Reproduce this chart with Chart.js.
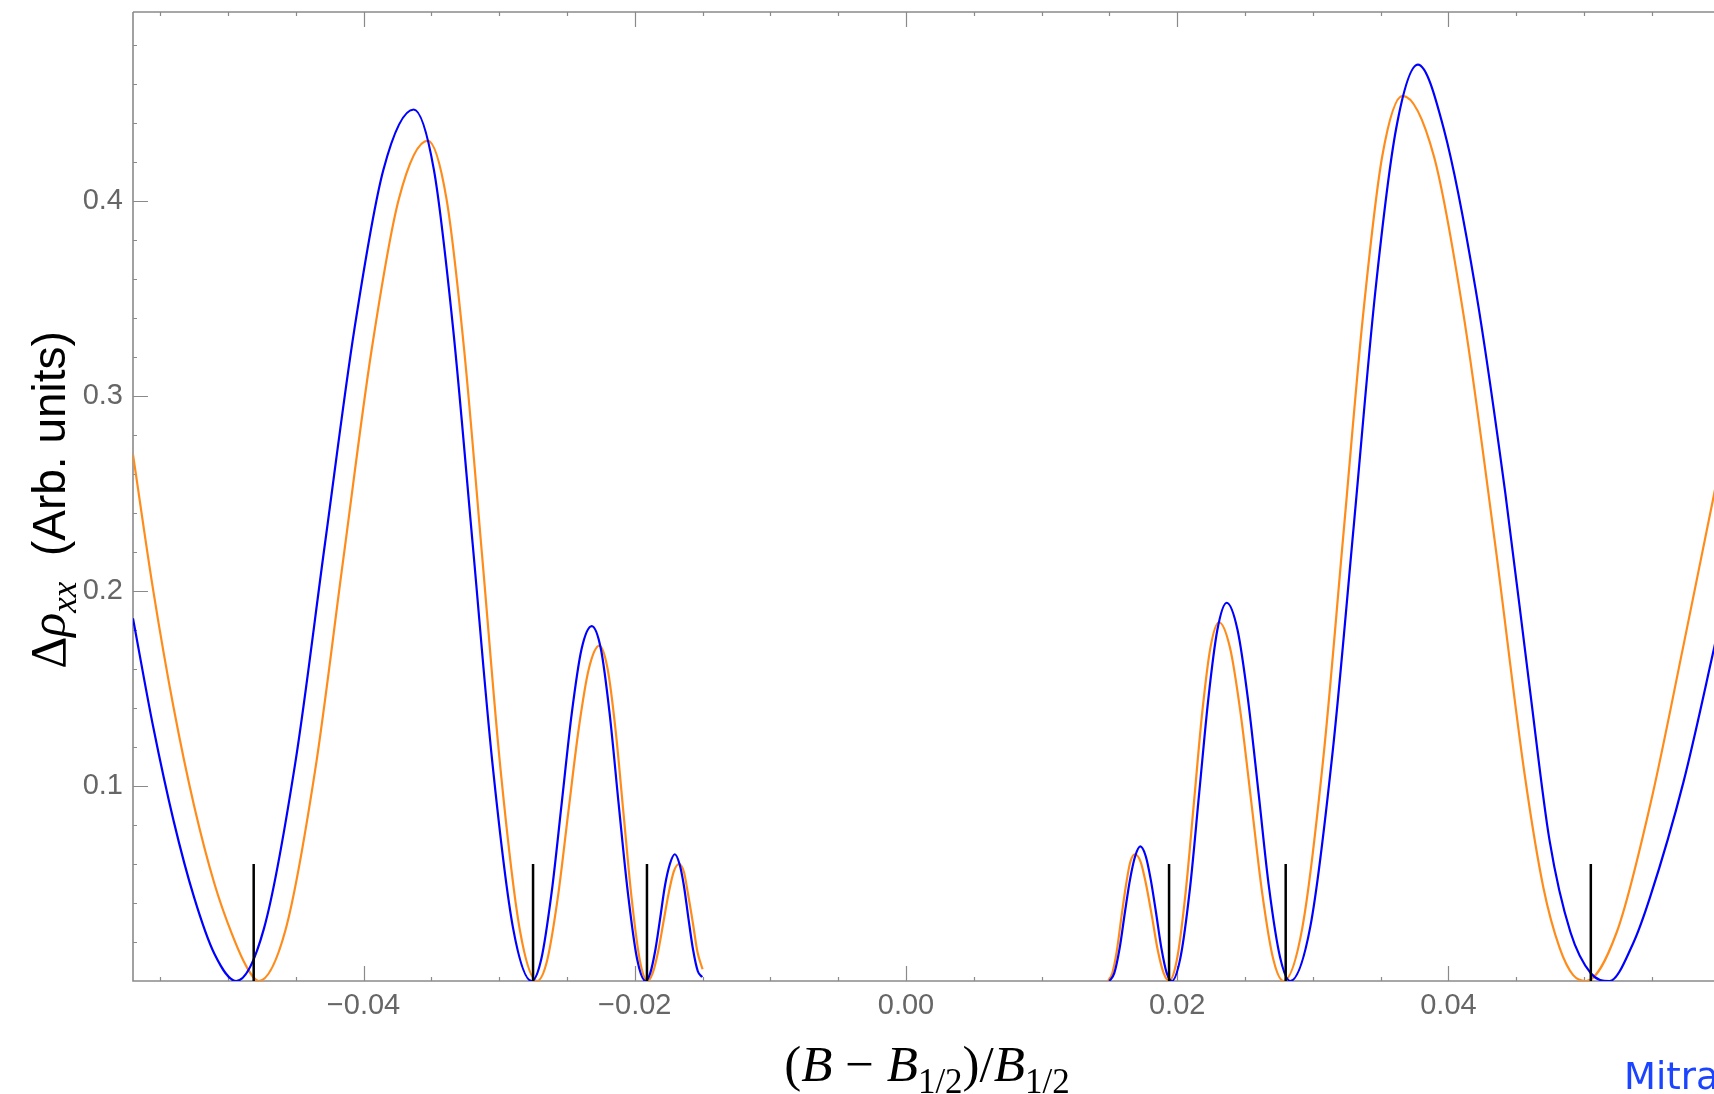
<!DOCTYPE html>
<html>
<head>
<meta charset="utf-8">
<script src="https://cdn.jsdelivr.net/npm/chart.js@4.4.1/dist/chart.umd.min.js"></script>
<style>
  html, body { margin: 0; padding: 0; background: #fff; overflow: hidden; }
  #wrap { width: 1722px; height: 1094px; }
</style>
</head>
<body>
<div id="wrap"><canvas id="rho" width="1722" height="1094"></canvas></div>
<script>
// axis ranges and ticks
const xMin = -0.0570
const xMax = 0.0601
const yMin = 0
const yMax = 0.497
const xTicks = [-0.04, -0.02, 0, 0.02, 0.04]
const yTicks = [0.1, 0.2, 0.3, 0.4]

// filling-factor markers
const markerX = [-0.0481, -0.0275, -0.0191, 0.0194, 0.0280, 0.0505]
const markerTop = 0.06

// [x, y] samples of the two curves, left and right of the gap
const blueLeft = [
  [-0.0570, 0.186], [-0.0555, 0.130], [-0.0540, 0.082], [-0.0525, 0.043], [-0.0510, 0.014], [-0.0494, 0],
  [-0.04734, 0.027], [-0.04503, 0.112], [-0.04285, 0.224], [-0.04066, 0.335], [-0.03854, 0.416], [-0.0363, 0.447],
  [-0.03481, 0.416], [-0.0334, 0.335], [-0.03195, 0.224], [-0.0305, 0.112], [-0.02897, 0.027], [-0.0276, 0],
  [-0.0269, 0.011], [-0.02612, 0.046], [-0.02539, 0.091], [-0.02465, 0.137], [-0.02393, 0.170], [-0.02317, 0.182],
  [-0.02249, 0.170], [-0.02185, 0.137], [-0.02119, 0.091], [-0.02052, 0.046], [-0.01982, 0.011], [-0.0192, 0],
  [-0.01886, 0.004], [-0.01848, 0.016], [-0.01813, 0.032], [-0.01777, 0.049], [-0.01741, 0.060], [-0.01705, 0.065],
  [-0.0167, 0.060], [-0.01638, 0.049], [-0.01604, 0.032], [-0.0157, 0.016], [-0.01535, 0.005], [-0.01503, 0.002]
]
const blueRight = [
  [0.0150, 0], [0.01536, 0.004], [0.01576, 0.017], [0.01614, 0.035], [0.01652, 0.052], [0.0169, 0.064], [0.01728, 0.069],
  [0.01768, 0.064], [0.01805, 0.052], [0.01844, 0.035], [0.01883, 0.017], [0.01923, 0.004], [0.0196, 0],
  [0.02024, 0.012], [0.02095, 0.048], [0.02163, 0.097], [0.0223, 0.145], [0.02296, 0.180], [0.02365, 0.194],
  [0.02445, 0.180], [0.02521, 0.145], [0.02599, 0.097], [0.02677, 0.048], [0.02759, 0.012], [0.02833, 0],
  [0.02982, 0.028], [0.03147, 0.118], [0.03304, 0.235], [0.0346, 0.353], [0.03614, 0.437], [0.03775, 0.470],
  [0.03966, 0.437], [0.0420, 0.355], [0.0442, 0.250], [0.0460, 0.150], [0.04746, 0.072], [0.0490, 0.025],
  [0.0505, 0.004], [0.05187, 0], [0.0536, 0.019], [0.05487, 0.043], [0.05733, 0.102], [0.0596, 0.171], [0.0602, 0.190]
]
const orangeLeft = [
  [-0.0570, 0.270], [-0.0555, 0.200], [-0.0540, 0.140], [-0.0525, 0.090], [-0.0510, 0.050], [-0.0497, 0.024],
  [-0.0486, 0.007], [-0.04773, 0],
  [-0.04576, 0.026], [-0.04357, 0.108], [-0.0415, 0.216], [-0.03942, 0.323], [-0.0374, 0.401], [-0.03526, 0.431],
  [-0.03388, 0.401], [-0.03257, 0.323], [-0.03123, 0.216], [-0.02989, 0.108], [-0.02847, 0.026], [-0.0272, 0],
  [-0.02648, 0.010], [-0.02567, 0.043], [-0.02491, 0.086], [-0.02414, 0.129], [-0.02339, 0.160], [-0.02261, 0.172],
  [-0.0220, 0.160], [-0.02142, 0.129], [-0.02083, 0.086], [-0.02024, 0.043], [-0.01961, 0.010], [-0.01905, 0],
  [-0.01868, 0.004], [-0.01828, 0.015], [-0.01789, 0.030], [-0.0175, 0.045], [-0.01713, 0.056], [-0.01673, 0.060],
  [-0.01638, 0.056], [-0.01608, 0.045], [-0.01572, 0.030], [-0.01538, 0.015], [-0.0150, 0.006]
]
const orangeRight = [
  [0.0149, 0], [0.01521, 0.004], [0.01556, 0.016], [0.01589, 0.033], [0.01622, 0.049], [0.01654, 0.061], [0.01688, 0.065],
  [0.01731, 0.061], [0.01772, 0.049], [0.01814, 0.033], [0.01856, 0.016], [0.0190, 0.004], [0.0194, 0],
  [0.01998, 0.011], [0.02063, 0.046], [0.02124, 0.092], [0.02185, 0.138], [0.02245, 0.171], [0.02308, 0.184],
  [0.02389, 0.171], [0.02466, 0.138], [0.02546, 0.092], [0.02625, 0.046], [0.02709, 0.011], [0.02784, 0],
  [0.02922, 0.027], [0.03077, 0.114], [0.03223, 0.227], [0.0337, 0.341], [0.03512, 0.423], [0.03662, 0.454],
  [0.03893, 0.423], [0.04113, 0.341], [0.04339, 0.227], [0.04564, 0.105], [0.0470, 0.048], [0.0482, 0.017],
  [0.0492, 0.003], [0.05015, 0],
  [0.05241, 0.025], [0.05487, 0.090], [0.05733, 0.172], [0.0596, 0.250], [0.0602, 0.270]
]

const BLUE = '#0000ff'
const ORANGE = '#ff8c1a'
const AXIS = '#8a8a8a'
const LABEL = '#666666'

const toPoints = arr => arr.map(([x, y]) => ({x, y}))

// each marker is a short vertical segment, separated by gaps
const markerPoints = []
markerX.forEach(x => {
  markerPoints.push({x, y: 0}, {x, y: markerTop}, {x, y: null})
})

function curve(data, color) {
  return {
    data: toPoints(data),
    borderColor: color,
    borderWidth: 2.2,
    cubicInterpolationMode: 'monotone',
    pointRadius: 0,
    fill: false
  }
}

// frame with inward ticks, Mathematica style
const frame = {
  id: 'frame',
  beforeDatasetsDraw(chart) {
    const {ctx, chartArea: a, scales: {x, y}} = chart
    ctx.save()
    ctx.strokeStyle = AXIS
    ctx.lineWidth = 1.6
    ctx.beginPath()
    ctx.moveTo(a.left, a.top)
    ctx.lineTo(a.right, a.top)
    ctx.moveTo(a.left, a.top)
    ctx.lineTo(a.left, a.bottom)
    ctx.lineTo(a.right, a.bottom)
    ctx.stroke()

    ctx.lineWidth = 1.2
    ctx.beginPath()
    const xStep = 0.005
    for (let i = Math.ceil(x.min / xStep); i * xStep <= x.max; i++) {
      const v = i * xStep
      const major = xTicks.some(t => Math.abs(t - v) < 1e-9)
      const len = major ? 15 : 4
      const px = Math.round(x.getPixelForValue(v)) + 0.5
      ctx.moveTo(px, a.bottom)
      ctx.lineTo(px, a.bottom - len)
      ctx.moveTo(px, a.top)
      ctx.lineTo(px, a.top + len)
    }
    const yStep = 0.02
    for (let i = 1; i * yStep <= y.max; i++) {
      const v = i * yStep
      const major = yTicks.some(t => Math.abs(t - v) < 1e-9)
      const len = major ? 15 : 4
      const py = Math.round(y.getPixelForValue(v)) + 0.5
      ctx.moveTo(a.left, py)
      ctx.lineTo(a.left + len, py)
    }
    ctx.stroke()
    ctx.restore()
  },
  afterDraw(chart) {
    const {ctx, chartArea: a} = chart
    ctx.save()
    ctx.fillStyle = '#000'
    ctx.textBaseline = 'alphabetic'

    // x title: (B - B_1/2)/B_1/2
    const big = 51, small = 35
    const roman = `${big}px "Liberation Serif"`
    const ital = `italic ${big}px "Liberation Serif"`
    const sub = `${small}px "Liberation Serif"`
    const parts = [
      ['(', roman, 0], ['B', ital, 0], [' \u2212 ', roman, 0], ['B', ital, 0], ['1/2', sub, 12],
      [')/', roman, 0], ['B', ital, 0], ['1/2', sub, 12]
    ]
    let w = 0
    parts.forEach(p => { ctx.font = p[1]; w += ctx.measureText(p[0]).width })
    let cx = (a.left + a.right) / 2 - w / 2
    parts.forEach(([t, f, dy]) => {
      ctx.font = f
      ctx.fillText(t, cx, 1081 + dy)
      cx += ctx.measureText(t).width
    })

    // y title, rotated: Δρ_xx (Arb. units)
    const yparts = [
      ['\u0394', `50px "Liberation Serif"`, 0],
      ['\u03c1', `italic 50px "Liberation Serif"`, 0],
      ['xx', `italic 35px "Liberation Serif"`, 11],
      ['  (Arb. units)', `46px "Liberation Sans"`, 0]
    ]
    let h = 0
    yparts.forEach(p => { ctx.font = p[1]; h += ctx.measureText(p[0]).width })
    ctx.translate(65, 500)
    ctx.rotate(-Math.PI / 2)
    let cy = -h / 2
    yparts.forEach(([t, f, dy]) => {
      ctx.font = f
      ctx.fillText(t, cy, dy)
      cy += ctx.measureText(t).width
    })
    ctx.restore()

    // credit line in the corner
    ctx.save()
    ctx.fillStyle = '#1a44ff'
    ctx.font = '37px "DejaVu Sans"'
    ctx.fillText('Mitra', 1624, 1089)
    ctx.restore()
  }
}

const tickFont = {family: '"Liberation Sans", Arial, sans-serif', size: 29}

new Chart(document.getElementById('rho'), {
  type: 'line',
  data: {
    datasets: [
      {data: markerPoints, borderColor: '#000', borderWidth: 2.5, pointRadius: 0, spanGaps: false},
      curve(blueLeft, BLUE),
      curve(blueRight, BLUE),
      curve(orangeLeft, ORANGE),
      curve(orangeRight, ORANGE)
    ]
  },
  options: {
    responsive: false,
    animation: false,
    devicePixelRatio: 1,
    layout: {padding: {top: 12, right: 1, left: 0, bottom: 0}},
    plugins: {legend: {display: false}, tooltip: {enabled: false}},
    scales: {
      x: {
        type: 'linear',
        min: xMin,
        max: xMax,
        grid: {display: false, drawTicks: false},
        border: {display: false},
        afterBuildTicks: s => { s.ticks = xTicks.map(value => ({value})) },
        afterFit: s => { s.height = 113; s.paddingLeft = 0; s.paddingRight = 0 },
        ticks: {
          color: LABEL,
          font: tickFont,
          padding: 8,
          maxRotation: 0,
          autoSkip: false,
          callback: v => (v < 0 ? '\u2212' : '') + Math.abs(v).toFixed(2)
        }
      },
      y: {
        type: 'linear',
        min: yMin,
        max: yMax,
        grid: {display: false, drawTicks: false},
        border: {display: false},
        afterBuildTicks: s => { s.ticks = yTicks.map(value => ({value})) },
        afterFit: s => { s.width = 133; s.paddingTop = 0; s.paddingBottom = 0 },
        ticks: {
          color: LABEL,
          font: tickFont,
          padding: 10,
          callback: v => v.toFixed(1)
        }
      }
    }
  },
  plugins: [frame]
})
</script>
</body>
</html>
